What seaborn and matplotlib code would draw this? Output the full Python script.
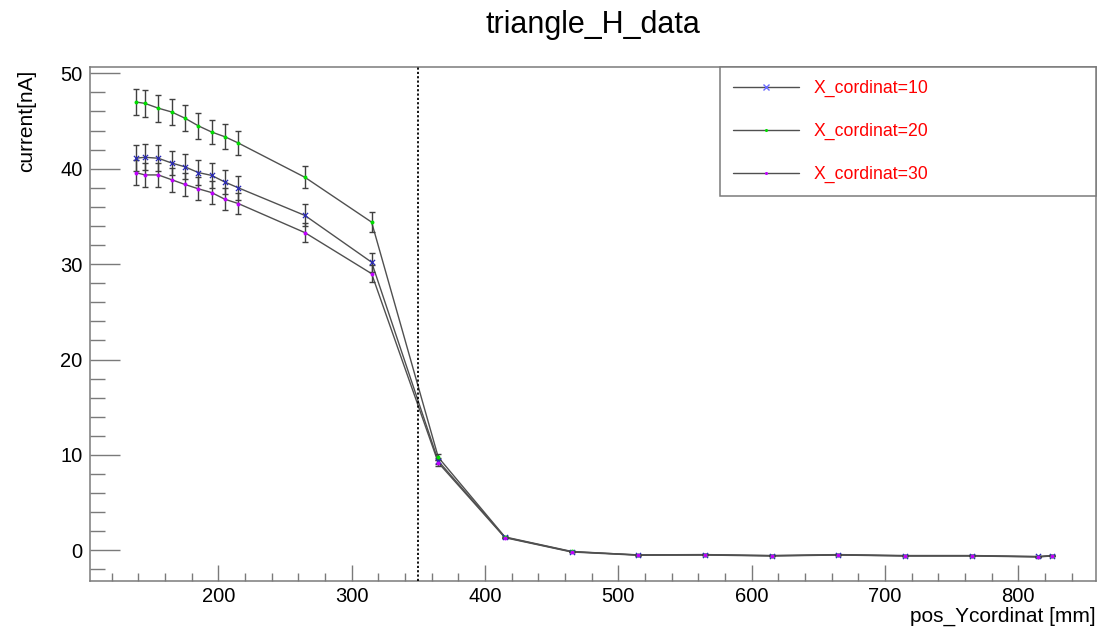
import matplotlib
matplotlib.use("Agg")
import matplotlib.pyplot as plt
from matplotlib.lines import Line2D
from matplotlib.ticker import MultipleLocator
import seaborn as sns
import pandas as pd

# ---------------- data ----------------
pos_y = [138, 145, 155, 165, 175, 185, 195, 205, 215, 265, 315,
         365, 415, 465, 515, 565, 615, 665, 715, 765, 815, 825]

current_x10 = [41.1, 41.2, 41.1, 40.6, 40.2, 39.6, 39.3, 38.6, 38.0, 35.1, 30.2,
               9.36, 1.36, -0.15, -0.48, -0.45, -0.55, -0.45, -0.55, -0.55, -0.65, -0.55]
current_x20 = [47.0, 46.85, 46.35, 45.95, 45.3, 44.5, 43.85, 43.35, 42.7, 39.1, 34.4,
               9.75, 1.40, -0.12, -0.50, -0.47, -0.57, -0.48, -0.58, -0.57, -0.68, -0.57]
current_x30 = [39.6, 39.35, 39.35, 38.85, 38.35, 37.9, 37.5, 36.8, 36.35, 33.3, 29.0,
               9.18, 1.32, -0.18, -0.52, -0.50, -0.60, -0.50, -0.60, -0.60, -0.70, -0.60]

err_x10 = [1.35, 1.35, 1.35, 1.30, 1.30, 1.30, 1.30, 1.25, 1.25, 1.15, 1.00,
           0.30, 0.06, 0.03, 0.03, 0.03, 0.03, 0.03, 0.03, 0.03, 0.03, 0.03]
err_x20 = [1.40, 1.40, 1.40, 1.40, 1.35, 1.35, 1.30, 1.30, 1.30, 1.15, 1.05,
           0.30, 0.06, 0.03, 0.03, 0.03, 0.03, 0.03, 0.03, 0.03, 0.03, 0.03]
err_x30 = [1.30, 1.30, 1.30, 1.25, 1.25, 1.20, 1.20, 1.15, 1.10, 1.00, 0.90,
           0.30, 0.06, 0.03, 0.03, 0.03, 0.03, 0.03, 0.03, 0.03, 0.03, 0.03]

series_labels = ["X_cordinat=10", "X_cordinat=20", "X_cordinat=30"]
cut_position = [350]

x_ticks = [200, 300, 400, 500, 600, 700, 800]
y_ticks = [0, 10, 20, 30, 40, 50]

# ---------------- style ----------------
sns.set_style("white")
plt.rcParams["font.family"] = ["Liberation Sans", "DejaVu Sans"]
plt.rcParams["text.color"] = "black"
plt.rcParams["axes.labelcolor"] = "black"
plt.rcParams["xtick.labelcolor"] = "black"
plt.rcParams["ytick.labelcolor"] = "black"

fig = plt.figure(figsize=(11.02, 6.34), dpi=100)
ax = fig.add_axes([0.0819, 0.0836, 0.9127, 0.8102])

series_vals = [current_x10, current_x20, current_x30]
series_errs = [err_x10, err_x20, err_x30]
marker_colors = ["#2a2ab8", "#00dd00", "#c000ff"]
markers = ["x", "o", "o"]
msizes = [14, 8, 8]

line_col = "#505050"
for vals, errs, mc, mk, ms in zip(series_vals, series_errs, marker_colors, markers, msizes):
    df = pd.DataFrame({"pos": pos_y, "cur": vals})
    sns.lineplot(data=df, x="pos", y="cur", color=line_col, lw=1.0, ax=ax,
                 estimator=None, sort=False)
    ax.errorbar(pos_y, vals, yerr=errs, fmt="none", ecolor="#404040",
                elinewidth=1.0, capsize=2.2, capthick=1.0, zorder=3)
    if mk == "x":
        sns.scatterplot(data=df, x="pos", y="cur", marker="x", color=mc, s=ms,
                        linewidth=0.9, ax=ax, zorder=4)
    else:
        sns.scatterplot(data=df, x="pos", y="cur", marker="o", color=mc, s=ms,
                        linewidth=0, ax=ax, zorder=4)

for c in cut_position:
    ax.axvline(c, color="black", ls=(0, (1.2, 1.2)), lw=1.3, zorder=5)

ax.set_xlim(104, 858.3)
ax.set_ylim(-3.22, 50.63)
ax.set_xticks(x_ticks)
ax.set_yticks(y_ticks)
ax.xaxis.set_minor_locator(MultipleLocator(20))
ax.yaxis.set_minor_locator(MultipleLocator(2))

frame_col = "#7a7a7a"
for s in ax.spines.values():
    s.set_color(frame_col)
    s.set_linewidth(1.1)

ax.tick_params(axis="x", which="major", direction="in", length=11.5, width=1.0,
               color=frame_col, labelcolor="black", labelsize=14.5, pad=4,
               top=False, bottom=True)
ax.tick_params(axis="x", which="minor", direction="in", length=5.8, width=1.0,
               color=frame_col, top=False, bottom=True)
ax.tick_params(axis="y", which="major", direction="in", length=21.5, width=1.0,
               color=frame_col, labelcolor="black", labelsize=14.5, pad=5.5,
               left=True, right=False)
ax.tick_params(axis="y", which="minor", direction="in", length=10.7, width=1.0,
               color=frame_col, left=True, right=False)

ax.set_xlabel("pos_Ycordinat [mm]", fontsize=15, loc="right", color="black")
ax.xaxis.set_label_coords(1.0, -0.05)
ax.set_ylabel("current[nA]", fontsize=15, loc="top", color="black")
ax.yaxis.set_label_coords(-0.054, 0.996)

fig.text(0.538, 0.9475, "triangle_H_data", ha="center", va="baseline",
         fontsize=22, color="black")

handles = []
for mc, mk in zip(["#6a6aff", "#00dd00", "#c000ff"], ["x", "o", "o"]):
    handles.append(Line2D([0], [0], color=line_col, lw=1.0, marker=mk,
                          markersize=4 if mk == "x" else 2.2,
                          markeredgecolor=mc, markerfacecolor=mc,
                          markeredgewidth=1.0 if mk == "x" else 0))
leg = ax.legend(handles, series_labels, loc="upper left",
                bbox_to_anchor=(0.626, 0.7495, 0.374, 0.2505), mode="expand",
                borderaxespad=0, frameon=True, fancybox=False, framealpha=1,
                edgecolor=frame_col, fontsize=12.7, handlelength=3.75,
                handletextpad=0.85, labelspacing=1.47, borderpad=0.72,
                numpoints=1)
leg.get_frame().set_linewidth(1.1)
for t in leg.get_texts():
    t.set_color("#ff0000")

fig.savefig("out.png", dpi=100)
